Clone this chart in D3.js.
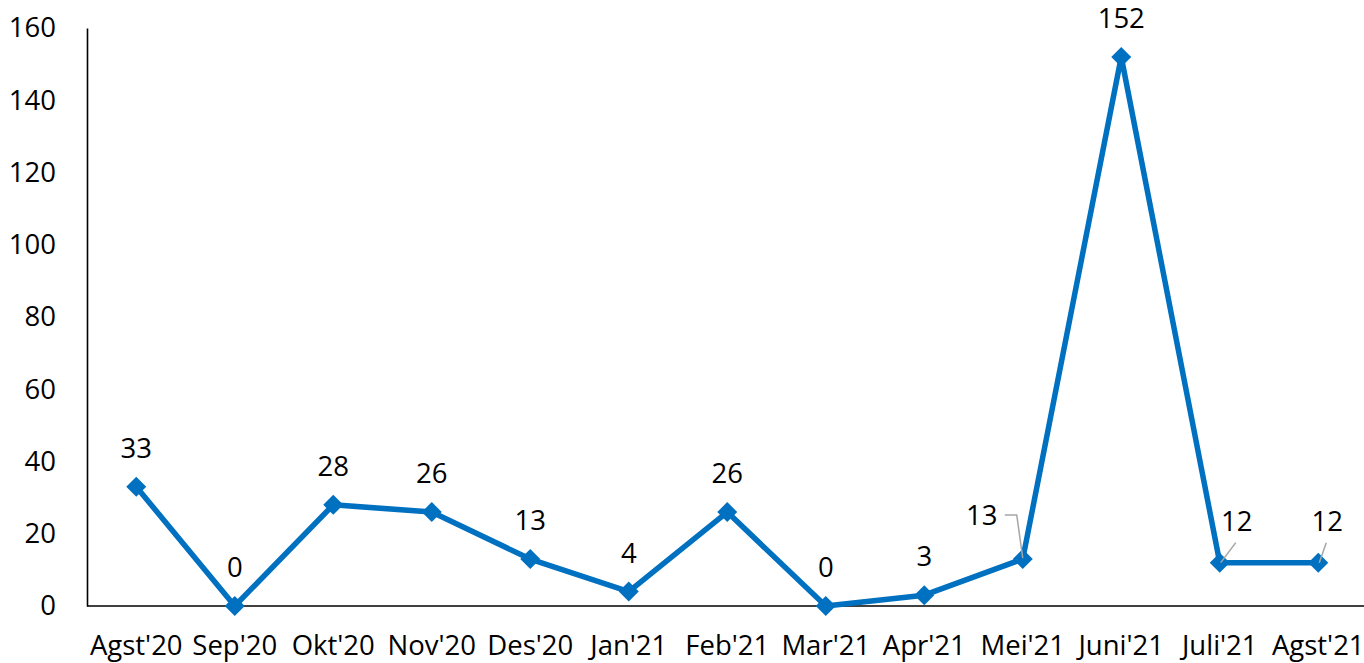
<!DOCTYPE html>
<html>
<head>
<meta charset="utf-8">
<script src="https://cdn.jsdelivr.net/npm/d3@7"></script>
<style>
html,body{margin:0;padding:0;background:#fff;}
svg text{font-family:"Open Sans",sans-serif;fill:#000;}
</style>
</head>
<body>
<svg id="chart" width="1364" height="663"></svg>
<script>
const categories = ["Agst'20","Sep'20","Okt'20","Nov'20","Des'20","Jan'21","Feb'21","Mar'21","Apr'21","Mei'21","Juni'21","Juli'21","Agst'21"];
const values = [33,0,28,26,13,4,26,0,3,13,152,12,12];
const yTicks = [0,20,40,60,80,100,120,140,160];

(function(){
const svg = d3.select("#chart");
const mLeft = 87, mTop = 28, mBottom = 606;
const bandW = 98.5;
const x = d3.scaleBand().domain(categories).range([mLeft, mLeft + bandW*categories.length]);
const y = d3.scaleLinear().domain([0,160]).range([mBottom, mTop]);
const cx = c => x(c) + x.bandwidth()/2;
const fs = 27.5;

// y axis
const yAxis = svg.append("g").attr("transform",`translate(${mLeft},0)`)
  .call(d3.axisLeft(y).tickValues(yTicks).tickSize(0).tickPadding(31));
yAxis.select(".domain").attr("stroke","#000").attr("stroke-width",1.6);
yAxis.selectAll("text").style("font-size",fs+"px").style("font-family","Open Sans");

// x axis
const xAxis = svg.append("g").attr("transform",`translate(0,${mBottom})`)
  .call(d3.axisBottom(x).tickSize(0).tickPadding(29));
xAxis.select(".domain").attr("stroke","#000").attr("stroke-width",1.6).attr("d",`M${mLeft},0H1364`);
xAxis.selectAll("text").style("font-size",fs+"px").style("font-family","Open Sans");

// line
const data = categories.map((c,i)=>({c, v:values[i]}));
svg.append("path").datum(data)
  .attr("fill","none").attr("stroke","#0070C0").attr("stroke-width",5.5).attr("stroke-linejoin","round")
  .attr("d", d3.line().x(d=>cx(d.c)).y(d=>y(d.v)));

// markers
svg.selectAll(".m").data(data).enter().append("path")
  .attr("fill","#0070C0")
  .attr("transform", d=>`translate(${cx(d.c)},${y(d.v)})`)
  .attr("d","M0,-10L10,0L0,10L-10,0Z");

// labels (offsets for the displaced ones)
const offsets = {
  "Mei'21": {dx:-41, dy:-34, leader:[[-18,-44],[-6,-44],[0,-1]]},
  "Juli'21": {dx:17, dy:-32, leader:[[16,-20],[1,0]]},
  "Agst'21": {dx:9, dy:-32, leader:[[8,-20],[1,0]]}
};
data.forEach(d=>{
  const px = cx(d.c), py = y(d.v);
  const o = offsets[d.c];
  if(o){
    svg.append("path").attr("fill","none").attr("stroke","#A6A6A6").attr("stroke-width",1.5)
      .attr("d", d3.line()(o.leader.map(p=>[px+p[0],py+p[1]])));
  }
  svg.append("text")
    .attr("x", px + (o?o.dx:0))
    .attr("y", py + (o?o.dy:-29))
    .attr("text-anchor","middle")
    .style("font-size",fs+"px")
    .text(d.v);
});
})();
</script>
</body>
</html>
